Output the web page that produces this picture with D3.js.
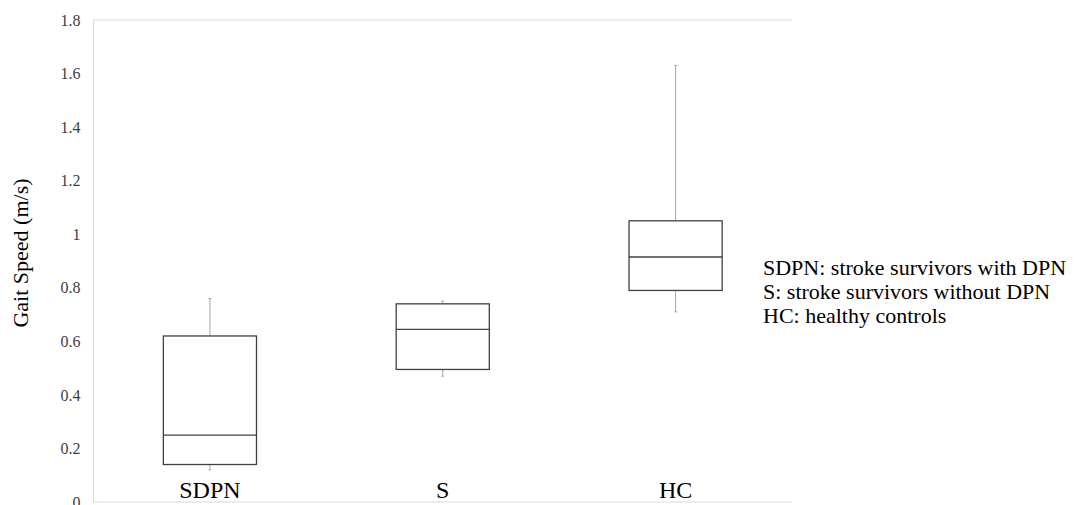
<!DOCTYPE html>
<html>
<head>
<meta charset="utf-8">
<script src="https://cdn.jsdelivr.net/npm/d3@7"></script>
<style>
  body { margin: 0; background: #fff; }
  svg text { font-family: "Liberation Serif", "DejaVu Serif", serif; }
</style>
</head>
<body>
<div id="chart"></div>
<script>
// groups and their box plot stats
let groups = ["SDPN", "S", "HC"];
let whiskerLow = [0.12, 0.47, 0.71];
let q1 = [0.14, 0.495, 0.79];
let median = [0.25, 0.645, 0.915];
let q3 = [0.62, 0.74, 1.05];
let whiskerHigh = [0.76, 0.75, 1.63];

let yTicks = [0, 0.2, 0.4, 0.6, 0.8, 1, 1.2, 1.4, 1.6, 1.8];
let legendLines = [
    "SDPN: stroke survivors with DPN",
    "S: stroke survivors without DPN",
    "HC: healthy controls"
];

let svgWidth = 1075;
let svgHeight = 505;

let margin = { top: 20, right: 283, bottom: 3, left: 93.5 };
let width = svgWidth - margin.left - margin.right;
let height = svgHeight - margin.top - margin.bottom;

let svg = d3.select("#chart")
    .append("svg")
    .attr("width", svgWidth)
    .attr("height", svgHeight);

let g = svg.append("g")
    .attr("transform", `translate(${margin.left}, ${margin.top})`);

let x = d3.scaleBand()
    .domain(groups)
    .range([0, width]);

let y = d3.scaleLinear()
    .domain([0, 1.8])
    .range([height, 0]);

// plot frame: left, top and bottom lines only
g.append("line").attr("x1", 0).attr("x2", 0).attr("y1", 0).attr("y2", height)
    .attr("stroke", "#d9d9d9");
g.append("line").attr("x1", 0).attr("x2", width).attr("y1", 0).attr("y2", 0)
    .attr("stroke", "#d9d9d9");
g.append("line").attr("x1", 0).attr("x2", width).attr("y1", height).attr("y2", height)
    .attr("stroke", "#d9d9d9");

// y axis labels
let yAxis = g.append("g")
    .call(d3.axisLeft(y).tickValues(yTicks).tickSize(0).tickPadding(13).tickFormat(d3.format("~g")));
yAxis.select(".domain").remove();
yAxis.selectAll("text")
    .attr("fill", "#404040")
    .style("font-size", "16px");

let boxW = x.bandwidth() * 0.4;
let data = groups.map((k, i) => ({
    key: k, lo: whiskerLow[i], q1: q1[i], med: median[i], q3: q3[i], hi: whiskerHigh[i]
}));

let boxes = g.selectAll(".box")
    .data(data)
    .enter()
    .append("g")
    .attr("class", "box")
    .attr("transform", d => `translate(${x(d.key) + x.bandwidth() / 2}, 0)`);

// whiskers
boxes.append("line")
    .attr("x1", 0).attr("x2", 0)
    .attr("y1", d => y(d.q3)).attr("y2", d => y(d.hi))
    .attr("stroke", "#a6a6a6");
boxes.append("line")
    .attr("x1", 0).attr("x2", 0)
    .attr("y1", d => y(d.q1)).attr("y2", d => y(d.lo))
    .attr("stroke", "#a6a6a6");
boxes.append("line")
    .attr("x1", -1.5).attr("x2", 1.5)
    .attr("y1", d => y(d.hi)).attr("y2", d => y(d.hi))
    .attr("stroke", "#a6a6a6");
boxes.append("line")
    .attr("x1", -1.5).attr("x2", 1.5)
    .attr("y1", d => y(d.lo)).attr("y2", d => y(d.lo))
    .attr("stroke", "#a6a6a6");

// boxes
boxes.append("rect")
    .attr("x", -boxW / 2)
    .attr("width", boxW)
    .attr("y", d => y(d.q3))
    .attr("height", d => y(d.q1) - y(d.q3))
    .attr("fill", "#fff")
    .attr("stroke", "#404040")
    .attr("stroke-width", 1.3);

// median line
boxes.append("line")
    .attr("x1", -boxW / 2).attr("x2", boxW / 2)
    .attr("y1", d => y(d.med)).attr("y2", d => y(d.med))
    .attr("stroke", "#404040")
    .attr("stroke-width", 1.3);

// category labels sit inside the plot, just above the bottom
g.selectAll(".cat")
    .data(groups)
    .enter()
    .append("text")
    .attr("class", "cat")
    .attr("x", d => x(d) + x.bandwidth() / 2)
    .attr("y", height - 4)
    .attr("text-anchor", "middle")
    .style("font-size", "24px")
    .attr("fill", "#000")
    .text(d => d);

// y axis title
svg.append("text")
    .attr("transform", "rotate(-90)")
    .attr("x", -253)
    .attr("y", 28)
    .attr("text-anchor", "middle")
    .style("font-size", "22px")
    .attr("fill", "#000")
    .text("Gait Speed (m/s)");

// legend text on the right
svg.append("g")
    .selectAll("text")
    .data(legendLines)
    .enter()
    .append("text")
    .attr("x", 763)
    .attr("y", (d, i) => 275 + i * 24)
    .style("font-size", "22px")
    .attr("fill", "#000")
    .text(d => d);
</script>
</body>
</html>
